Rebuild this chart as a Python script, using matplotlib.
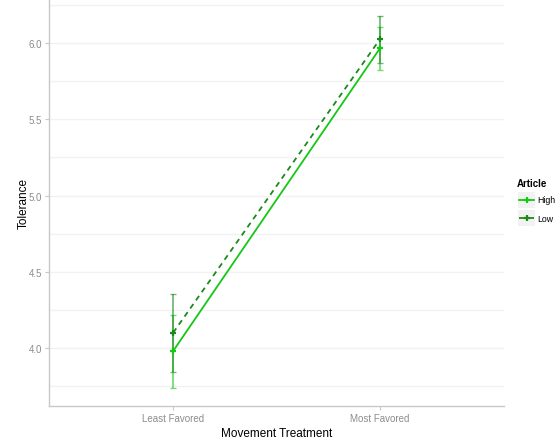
import matplotlib
matplotlib.use("Agg")
import matplotlib.pyplot as plt
from matplotlib.lines import Line2D

plt.rcParams['font.family'] = ['Liberation Sans', 'DejaVu Sans']

categories = ["Least Favored", "Most Favored"]
series_names = ["High", "Low"]
high_mean = [3.98, 5.965]
high_err = [0.24, 0.14]
low_mean = [4.10, 6.025]
low_err = [0.255, 0.155]
y_ticks = [4.0, 4.5, 5.0, 5.5, 6.0]
y_tick_labels = ["4.0", "4.5", "5.0", "5.5", "6.0"]

colors = {"High": "#14C814", "Low": "#1A8A1A"}
styles = {"High": "-", "Low": (0, (3, 2.5))}

fig = plt.figure(figsize=(5.59, 4.39), dpi=100)
ax = fig.add_axes([49/559, 32/439, (504-49)/559, 407/439])

x = list(range(1, len(categories) + 1))
for name, means, errs in [("High", high_mean, high_err), ("Low", low_mean, low_err)]:
    c = colors[name]
    ax.errorbar(x, means, yerr=errs, fmt='none', ecolor=c, elinewidth=1.3,
                capsize=2.5, capthick=1.0, alpha=0.6, zorder=3)
    ax.plot(x, means, color=c, linestyle=styles[name], linewidth=1.3,
            marker='+', markersize=5, markeredgewidth=1.6, zorder=4)

ax.set_xlim(0.4, 2.6)
ax.set_ylim(3.62, 6.289)
ax.set_xticks(x)
ax.set_xticklabels(categories)
ax.set_yticks(y_ticks)
ax.set_yticklabels(y_tick_labels)
ax.set_yticks([3.75, 4.25, 4.75, 5.25, 5.75, 6.25], minor=True)
ax.grid(axis='y', which='both', color='#F2F2F2', linewidth=1.0, zorder=0)
ax.set_axisbelow(True)
ax.tick_params(axis='y', which='minor', length=0)
ax.tick_params(axis='both', which='major', colors='#C8C8C8', labelcolor='#8C8C8C',
               labelsize=7, length=3, width=0.8, pad=2)

for s in ['top', 'right']:
    ax.spines[s].set_visible(False)
for s in ['left', 'bottom']:
    ax.spines[s].set_color('#C8C8C8')
    ax.spines[s].set_linewidth(1.0)

ax.set_xlabel("Movement Treatment", fontsize=8.5, color='black', labelpad=3)
ax.set_ylabel("Tolerance", fontsize=8.5, color='black', labelpad=-1)

# legend
fig.text(517/559, 1 - 184/439, "Article", fontsize=7, fontweight='bold',
         ha='left', va='center')
for i, name in enumerate(series_names):
    yc = 1 - (201 + i * 18) / 439
    fig.patches.append(matplotlib.patches.Rectangle(
        (518/559, yc - 8/439), 17/559, 16/439, transform=fig.transFigure,
        facecolor='#F2F2F2', edgecolor='none'))
    fig.lines.append(Line2D([519/559, 534/559], [yc, yc], transform=fig.transFigure,
                            color=colors[name], linewidth=1.3, linestyle=styles[name]))
    fig.lines.append(Line2D([526.5/559], [yc], transform=fig.transFigure,
                            color=colors[name], marker='+', markersize=5,
                            markeredgewidth=1.6, linestyle='none'))
    fig.text(537/559, yc, name, fontsize=6.3, ha='left', va='center')

fig.savefig("out.png", dpi=100)
